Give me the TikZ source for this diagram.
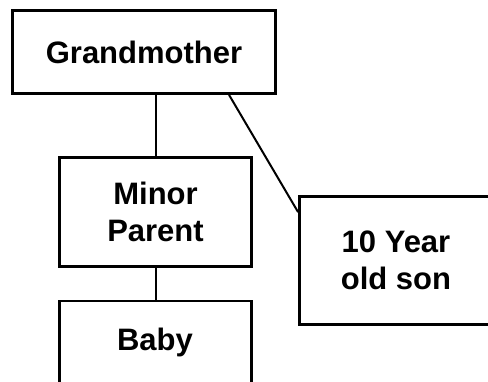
\documentclass[tikz,border=0pt]{standalone}
\usepackage{fontspec}
\setmainfont{Liberation Sans}
\usetikzlibrary{calc}
\begin{document}
\begin{tikzpicture}[x=1pt,y=-1pt,
  box/.style={draw=black,line width=2.8pt,rectangle,inner sep=0pt,
    align=center,font=\fontsize{31}{37}\selectfont\bfseries},
  link/.style={draw=black,line width=2pt}]
\useasboundingbox (0,0) rectangle (488,381);
\clip (0,0) rectangle (488,381);
\fill[white] (0,0) rectangle (488,381);
\node[box,minimum width=263pt,minimum height=83pt] (gm) at (144,52) {Grandmother};
\node[box,minimum width=192pt,minimum height=109pt] (mp) at (155.5,212) {Minor\\Parent};
\node[box,minimum width=193pt,minimum height=128pt] (son) at (396,260.5) {10 Year\\old son};
\node[box,minimum width=192pt,minimum height=110pt] (baby) at (155.5,356) {};
\node[font=\fontsize{31}{37}\selectfont\bfseries] (babyt) at (155,342) {Baby};
\draw[link] (mp.north) -- (mp.north |- gm.south);
\draw[link] (mp.south) -- (baby.north);
\draw[link] ($(gm.south east)!0.18!(gm.south west)$) -- ($(son.north west)!0.13!(son.south west)$);
\end{tikzpicture}
\end{document}
